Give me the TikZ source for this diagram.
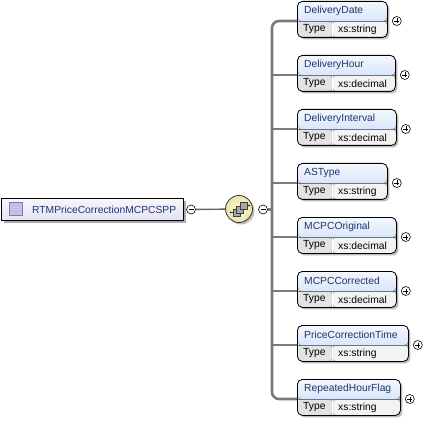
\documentclass[tikz,border=0pt]{standalone}
\usepackage{fontspec}
\setmainfont{Liberation Sans}
\usetikzlibrary{shadows,calc}
\newcommand{\xsdfont}{\fontsize{10.3}{12.4}\selectfont}
\definecolor{hdrtop}{HTML}{F4F8FE}
\definecolor{hdrbot}{HTML}{C2D5F5}
\definecolor{namecol}{HTML}{1E3566}
\definecolor{typecell}{HTML}{E3E3E3}
\definecolor{valcell}{HTML}{F3F3F3}
\definecolor{barcol}{HTML}{7A7A7A}
\definecolor{roottop}{HTML}{F7F6FD}
\definecolor{rootbot}{HTML}{E6E3F3}
\definecolor{iconfill}{HTML}{C6C0E8}
\definecolor{iconedge}{HTML}{7F77B5}
\definecolor{seqin}{HTML}{FFFDE6}
\definecolor{seqout}{HTML}{EDE2A6}
\definecolor{sqfill}{HTML}{A8A8A8}
\tikzset{
  elembox/.style={draw=black, line width=0.8pt, rounded corners=5pt,
    minimum height=36pt, inner sep=0pt, anchor=north west,
    drop shadow={shadow xshift=2pt, shadow yshift=-2pt, fill=black!50, opacity=0.55},
    path picture={
      \fill[top color=hdrtop, bottom color=hdrbot]
        (path picture bounding box.north west) rectangle
        ($(path picture bounding box.north east)+(0,20)$);
      \fill[typecell] ($(path picture bounding box.north west)+(0,20)$) rectangle
        ($(path picture bounding box.south west)+(35,0)$);
      \fill[valcell] ($(path picture bounding box.north west)+(35,20)$) rectangle
        (path picture bounding box.south east);
      \draw[black!55, line width=0.8pt] ($(path picture bounding box.north west)+(0,20)$) --
        ($(path picture bounding box.north east)+(0,20)$);
      \draw[white, line width=1pt] ($(path picture bounding box.north west)+(35,20.5)$) --
        ($(path picture bounding box.south west)+(35,0)$);
    }},
  elname/.style={anchor=west, inner sep=0pt, text=namecol},
  tylab/.style={anchor=west, inner sep=0pt, text=black},
  smallc/.style={circle, draw=black, line width=0.6pt, fill=white, minimum size=9pt, inner sep=0pt},
  barline/.style={draw=barcol, line width=2.6pt},
  thinline/.style={draw=black!60, line width=1.4pt},
  rootbox/.style={draw=black, line width=0.9pt, top color=roottop, bottom color=rootbot,
    minimum width=182pt, minimum height=22pt, inner sep=0pt, anchor=north west,
    drop shadow={shadow xshift=2.5pt, shadow yshift=-2.5pt, fill=black!55, opacity=0.6}},
  seqc/.style={circle, draw=black!80, line width=0.8pt, inner color=seqin, outer color=seqout,
    minimum size=27pt, inner sep=0pt,
    drop shadow={shadow xshift=2pt, shadow yshift=-2pt, fill=black!50, opacity=0.5}},
  sqbox/.style={draw=black!75, line width=0.5pt, fill=sqfill}
}
\newcommand{\xsdelem}[5]{%
  \node[elembox, minimum width=#3pt] (#1) at (297,#2) {};
  \node[elname] (#1n) at ($(#1.north west)+(7,10)$) {\xsdfont #4};
  \node[tylab] (#1t) at ($(#1.north west)+(6,28.5)$) {\xsdfont Type};
  \node[tylab] (#1v) at ($(#1.north west)+(41,28.5)$) {\xsdfont #5};
  \coordinate (#1c) at ($(#1.north west)+(0,20)$);
  \node[smallc] (#1p) at ($(#1.north east)+(9,20)$) {};
  \draw[line width=0.6pt] ($(#1p)+(-2.5,0)$) -- ($(#1p)+(2.5,0)$);
  \draw[line width=0.6pt] ($(#1p)+(0,-2.5)$) -- ($(#1p)+(0,2.5)$);
}
\begin{document}
\begin{tikzpicture}[x=1pt,y=-1pt]
\useasboundingbox[fill=white] (0,0) rectangle (426,425);

% root element
\node[rootbox] (root) at (1,198) {};
\node[draw=iconedge, line width=0.6pt, fill=iconfill, minimum size=13pt, inner sep=0pt] (rooticon) at (15.5,209) {};
\node[elname] (rootname) at (32,209.5) {\xsdfont RTMPriceCorrectionMCPCSPP};
\node[smallc] (rm) at (191,209.5) {};
\draw[line width=0.6pt] ($(rm)+(-2.5,0)$) -- ($(rm)+(2.5,0)$);

% sequence compositor
\node[seqc] (seq) at (239,209) {};
\node[smallc] (sm) at (263,209.5) {};
\draw[line width=0.6pt] ($(sm)+(-2.5,0)$) -- ($(sm)+(2.5,0)$);
\draw[thinline] (rm) -- (seq);
% sequence icon
\draw[black!80, line width=0.7pt] ($(seq)+(-8.5,3.5)$) -- ($(seq)+(-5,3.5)$);
\fill[black!80] ($(seq)+(-8.5,3.5)$) circle (1pt);
\draw[black!80, line width=0.7pt] ($(seq)+(6,-3.5)$) -- ($(seq)+(10,-3.5)$);
\fill[black!80] ($(seq)+(10,-3.5)$) circle (1pt);
\draw[sqbox] ($(seq)+(-6,0.5)$) rectangle ($(seq)+(1,7.5)$);
\draw[sqbox] ($(seq)+(-2.5,-3)$) rectangle ($(seq)+(4.5,4)$);
\draw[sqbox] ($(seq)+(1,-6.5)$) rectangle ($(seq)+(8,0.5)$);

% child elements
\xsdelem{e1}{1}{90}{DeliveryDate}{xs:string}
\xsdelem{e2}{55}{98}{DeliveryHour}{xs:decimal}
\xsdelem{e3}{109}{99}{DeliveryInterval}{xs:decimal}
\xsdelem{e4}{163}{90}{ASType}{xs:string}
\xsdelem{e5}{217}{99}{MCPCOriginal}{xs:decimal}
\xsdelem{e6}{271}{99}{MCPCCorrected}{xs:decimal}
\xsdelem{e7}{325}{111}{PriceCorrectionTime}{xs:string}
\xsdelem{e8}{379}{103}{RepeatedHourFlag}{xs:string}

% connectors
\coordinate (bx) at (272,209.5);
\draw[barline, rounded corners=7pt] (e1c) -| (bx) |- (e8c);
\draw[barline] (sm) -- (bx);
\foreach \i in {2,...,7} {\draw[barline] (e\i c -| bx) -- (e\i c);}
\end{tikzpicture}
\end{document}
